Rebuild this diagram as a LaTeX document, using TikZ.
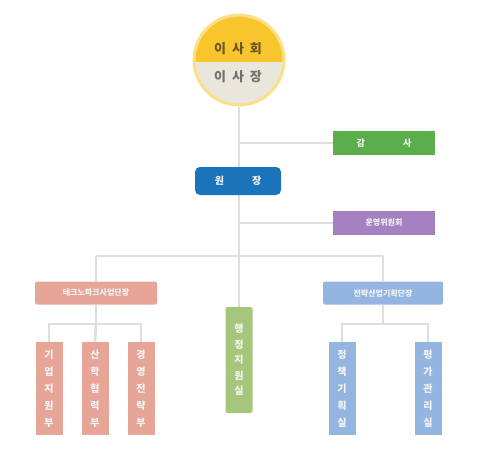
\documentclass[tikz,border=0pt]{standalone}
\usepackage{fontspec}
\setmainfont{Noto Sans CJK KR}
\usetikzlibrary{backgrounds}
\definecolor{ringY}{HTML}{FBE08A}
\definecolor{topY}{HTML}{F8C52C}
\definecolor{botG}{HTML}{E9E6DC}
\definecolor{txtBrown}{HTML}{6A5626}
\definecolor{txtGrey}{HTML}{707070}
\definecolor{lineG}{HTML}{DEDEDE}
\definecolor{auditG}{HTML}{5BAE4C}
\definecolor{chiefB}{HTML}{1B73BA}
\definecolor{commP}{HTML}{A581C1}
\definecolor{salmon}{HTML}{E6A597}
\definecolor{leaf}{HTML}{A6C77B}
\definecolor{skyB}{HTML}{94B5DF}
\definecolor{softW}{HTML}{F4F4F4}
\tikzset{
  conn/.style={draw=lineG, line width=2.6pt},
  flatbox/.style={rectangle, inner sep=0pt, text=softW},
  hbox/.style={flatbox, rounded corners=2pt, minimum height=23pt, font=\fontsize{8}{9}\selectfont\bfseries},
  vbox/.style={flatbox, minimum width=27pt, align=center, font=\fontsize{10}{17}\selectfont\bfseries},
}
\begin{document}
\begin{tikzpicture}[x=1pt,y=-1pt]
\useasboundingbox (0,0) rectangle (480,474);

% board circle
\begin{scope}
  \clip (239,60) circle (44);
  \fill[topY] (190,10) rectangle (290,62);
  \fill[botG] (190,62) rectangle (290,110);
\end{scope}
\node[circle, draw=ringY, line width=3pt, minimum size=90pt, inner sep=0pt] (board) at (239,60) {};
\node[text=txtBrown, font=\fontsize{13}{14}\selectfont\bfseries] (hoe) at (238,49) {이\hspace{6pt}사\hspace{6pt}회};
\node[text=txtGrey, font=\fontsize{13}{14}\selectfont\bfseries] (jang) at (238,77) {이\hspace{6pt}사\hspace{6pt}장};

% management
\node[hbox, fill=chiefB, rounded corners=5pt, minimum width=86pt, minimum height=28pt, font=\fontsize{10}{11}\selectfont\bfseries] (chief) at (238,181) {원\hspace{28pt}장};
\node[hbox, fill=auditG, rounded corners=0pt, minimum width=102pt, minimum height=24pt, font=\fontsize{9}{10}\selectfont\bfseries] (audit) at (384,143) {감\hspace{38pt}사};
\node[hbox, fill=commP, rounded corners=0pt, minimum width=102pt, minimum height=24pt] (comm) at (384,223) {운영위원회};

% division heads
\node[hbox, fill=salmon, minimum width=122pt] (left) at (96,293) {테크노파크사업단장};
\node[hbox, fill=skyB, minimum width=120pt] (right) at (383,293) {전략산업기획단장};

% leaves
\node[vbox, fill=salmon, minimum height=93pt] (l1) at (49,388.5) {기\\업\\지\\원\\부};
\node[vbox, fill=salmon, minimum height=93pt] (l2) at (95,388.5) {산\\학\\협\\력\\부};
\node[vbox, fill=salmon, minimum height=93pt] (l3) at (141,388.5) {경\\영\\전\\략\\부};
\node[vbox, fill=leaf, rounded corners=2pt, minimum height=106pt, font=\fontsize{10}{15.5}\selectfont\bfseries] (mid) at (239,360) {행\\정\\지\\원\\실};
\node[vbox, fill=skyB, minimum height=93pt] (r1) at (342,388.5) {정\\책\\기\\획\\실};
\node[vbox, fill=skyB, minimum height=93pt] (r2) at (428,388.5) {평\\가\\관\\리\\실};

% junctions
\coordinate (trunkEnd) at (239,256);
\coordinate (aJ) at (239,143);
\coordinate (cJ) at (239,223);
\coordinate (bL) at (left.center |- trunkEnd);
\coordinate (bR) at (right.center |- trunkEnd);
\coordinate (lJ) at (left.center |- 0,324);
\coordinate (rJ) at (right.center |- 0,324);

\begin{scope}[on background layer]
  \fill[white] (0,0) rectangle (480,474);
  \draw[conn] (board.south) -- (trunkEnd);
  \draw[conn] (aJ) -- (audit.west);
  \draw[conn] (cJ) -- (comm.west);
  \draw[conn] (bL) -- (bR);
  \draw[conn] (trunkEnd) -- (mid.north);
  \draw[conn] (bL) -- (left.north);
  \draw[conn] (bR) -- (right.north);
  \draw[conn] (left.south) -- (lJ);
  \draw[conn] (right.south) -- (rJ);
  \draw[conn] (l1.north) |- (lJ) -| (l3.north);
  \draw[conn] (lJ) -- (l2.north);
  \draw[conn] (r1.north) |- (rJ) -| (r2.north);
\end{scope}
\end{tikzpicture}
\end{document}
